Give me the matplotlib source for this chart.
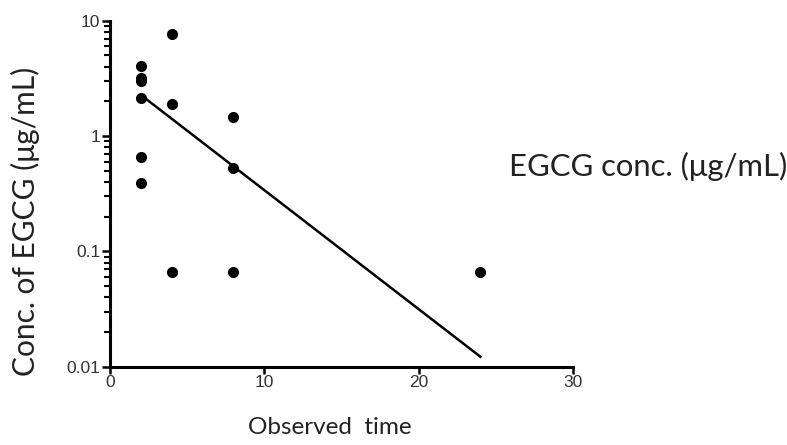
import numpy as np
import matplotlib
matplotlib.use("Agg")
import matplotlib.pyplot as plt
from matplotlib.ticker import LogLocator, NullFormatter, FixedLocator

plt.rcParams['font.family'] = ['Liberation Sans', 'DejaVu Sans']

# observed points (time, EGCG conc.)
time_pts = [2, 2, 2, 2, 2, 2, 4, 4, 4, 8, 8, 8, 24]
conc_pts = [4.07, 3.2, 2.98, 2.14, 0.66, 0.39, 7.6, 1.9, 0.066, 1.47, 0.525, 0.066, 0.066]

# fitted decay line end points
fit_time = [2, 24]
fit_conc = [2.27, 0.0122]

x_ticks = [0, 10, 20, 30]
y_ticks = [0.01, 0.1, 1, 10]
y_tick_labels = ["0.01", "0.1", "1", "10"]

fig = plt.figure(figsize=(7.87, 4.45), dpi=100)
ax = fig.add_axes([110 / 787, 1 - 366.7 / 445, (573 - 110) / 787, (366.7 - 20.7) / 445])

ax.plot(time_pts, conc_pts, "o", color="black", markersize=7, clip_on=False, zorder=3)
ax.plot(fit_time, fit_conc, color="black", linewidth=1.8)

ax.set_yscale("log")
ax.set_xlim(0, 30)
ax.set_ylim(0.01, 10)
ax.xaxis.set_major_locator(FixedLocator(x_ticks))
ax.yaxis.set_major_locator(FixedLocator(y_ticks))
ax.set_yticklabels(y_tick_labels)
ax.yaxis.set_minor_locator(LogLocator(base=10, subs=np.arange(2, 10)))
ax.yaxis.set_minor_formatter(NullFormatter())

for s in ["top", "right"]:
    ax.spines[s].set_visible(False)
for s in ["left", "bottom"]:
    ax.spines[s].set_linewidth(2.2)

ax.tick_params(axis="y", which="major", length=6, width=1.8, labelsize=12.5, labelcolor="#333333", pad=1)
ax.tick_params(axis="y", which="minor", length=4, width=1.5)
ax.tick_params(axis="x", which="major", length=5, width=1.8, labelsize=12.5, labelcolor="#333333", pad=1)

fig.text(25 / 787, 1 - 221 / 445, "Conc. of EGCG (\u03bcg/mL)", fontsize=21.5, family="Lato",
         color="#222222", rotation=90, ha="center", va="center")
fig.text(330 / 787, 1 - 428 / 445, "Observed  time", fontsize=17.5, family="Lato",
         color="#222222", ha="center", va="center")
fig.text(509 / 787, 1 - 166 / 445, "EGCG conc. (\u03bcg/mL)", fontsize=22.3, family="Lato",
         color="#222222", ha="left", va="center")

fig.savefig("out.png", dpi=100)
